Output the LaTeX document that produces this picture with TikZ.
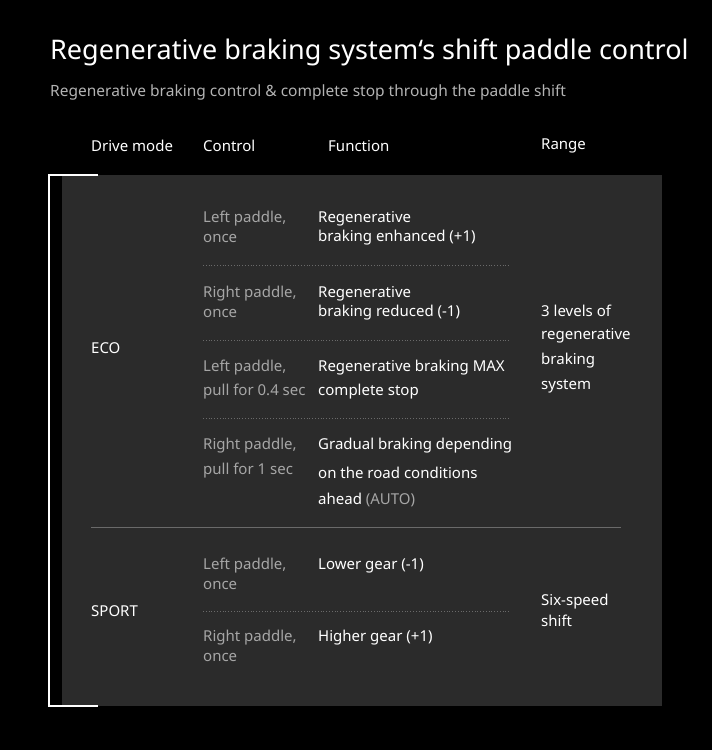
\documentclass[tikz,border=0pt]{standalone}
\usepackage{fontspec}
\setmainfont{Noto Sans}
\begin{document}
\begin{tikzpicture}[x=1pt,y=-1pt,
  txt/.style={anchor=west,inner sep=0pt,font=\fontsize{15}{15}\selectfont},
  gr/.style={txt,text=graytxt},
  wh/.style={txt,text=white},
  bold/.style={txt,text=white,font=\fontsize{15}{15}\selectfont\bfseries},
  dot/.style={draw=dotgray,dotted,line width=0.8pt}]
\definecolor{graytxt}{HTML}{A6A6A6}
\definecolor{panel}{HTML}{2B2B2B}
\definecolor{dotgray}{HTML}{6A6A6A}
\fill[black] (0,0) rectangle (712,750);
\useasboundingbox (0,0) rectangle (712,750);
\fill[panel] (62,175) rectangle (662,706);
\draw[white,line width=1.5pt] (98,175) -- (49,175) -- (49,706) -- (98,706);
\node[wh,font=\fontsize{27}{27}\selectfont] (title) at (50,52) {Regenerative braking system`s shift paddle control};
\node[txt,text=graytxt!85,font=\fontsize{15.5}{15.5}\selectfont] (sub) at (50,92) {Regenerative braking control \& complete stop through the paddle shift};
\node[wh] (h1) at (91,146) {Drive mode};
\node[wh] (h2) at (203,146) {Control};
\node[wh] (h3) at (328,146) {Function};
\node[wh] (h4) at (541,146) {Range};
% ECO
\node[bold] (eco) at (91,348) {ECO};
\node[gr] (c1a) at (203,219) {Left paddle,};
\node[gr] (c1b) at (203,238) {once};
\node[wh] (f1a) at (318,219) {Regenerative};
\node[wh] (f1b) at (318,238) {braking enhanced (+1)};
\node[gr] (c2a) at (203,294) {Right paddle,};
\node[gr] (c2b) at (203,313) {once};
\node[wh] (f2a) at (318,294) {Regenerative};
\node[wh] (f2b) at (318,313) {braking reduced (-1)};
\node[gr] (c3a) at (203,368) {Left paddle,};
\node[gr] (c3b) at (203,392) {pull for 0.4 sec};
\node[wh] (f3a) at (318,368) {Regenerative braking MAX};
\node[wh] (f3b) at (318,392) {complete stop};
\node[gr] (c4a) at (203,446) {Right paddle,};
\node[gr] (c4b) at (203,471) {pull for 1 sec};
\node[wh] (f4a) at (318,446) {Gradual braking depending};
\node[wh] (f4b) at (318,473) {on the road conditions};
\node[wh] (f4c) at (318,500) {ahead {\color{graytxt}(AUTO)}};
\node[wh] (r1a) at (541,311) {3 levels of};
\node[wh] (r1b) at (541,336) {regenerative};
\node[wh] (r1c) at (541,361) {braking};
\node[wh] (r1d) at (541,386) {system};
\coordinate (d1l) at (203,265); \coordinate (d1r) at (510,265);
\coordinate (d2l) at (203,340); \coordinate (d2r) at (510,340);
\coordinate (d3l) at (203,418); \coordinate (d3r) at (510,418);
\draw[dot] (d1l) -- (d1r); \draw[dot] (d2l) -- (d2r); \draw[dot] (d3l) -- (d3r);
\coordinate (sl) at (91,527); \coordinate (sr) at (621,527);
\draw[draw=dotgray,line width=0.8pt] (sl) -- (sr);
% SPORT
\node[bold] (sport) at (91,611) {SPORT};
\node[gr] (c5a) at (203,566) {Left paddle,};
\node[gr] (c5b) at (203,585) {once};
\node[wh] (f5) at (318,566) {Lower gear (-1)};
\node[gr] (c6a) at (203,638) {Right paddle,};
\node[gr] (c6b) at (203,657) {once};
\node[wh] (f6) at (318,638) {Higher gear (+1)};
\node[wh] (r2a) at (541,602) {Six-speed};
\node[wh] (r2b) at (541,621) {shift};
\coordinate (d4l) at (203,611); \coordinate (d4r) at (510,611);
\draw[dot] (d4l) -- (d4r);
\end{tikzpicture}
\end{document}
